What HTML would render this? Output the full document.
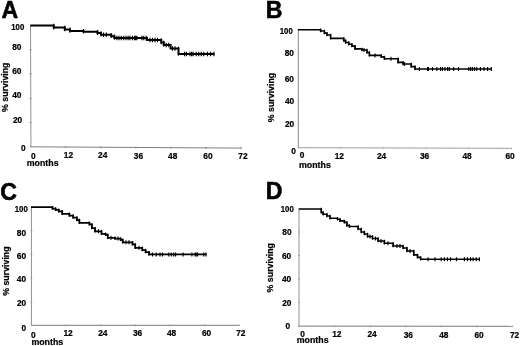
<!DOCTYPE html>
<html><head><meta charset="utf-8"><title>Survival curves</title>
<style>
html,body{margin:0;padding:0;background:#fff;}
svg{display:block;}
text{font-family:"Liberation Sans",Arial,Helvetica,sans-serif;font-weight:bold;font-size:8.8px;fill:#000;stroke:#000;stroke-width:0.22px;stroke-linejoin:round;}
text.pl{font-size:23.1px;stroke-width:0.6px;}
</style></head>
<body>
<svg width="520" height="346" viewBox="0 0 520 346">
<rect width="520" height="346" fill="#fff"/>
<g>
<path d="M30.5,25.4L30.95,147.3" fill="none" stroke="#929292" stroke-width="1.0"/>
<path d="M30.0,146.8L241.3,148.1" fill="none" stroke="#808080" stroke-width="1.0"/>
<path d="M29.5,49.75h2.0M29.5,73.75h2.0M29.5,98.4h2.0M29.5,122.5h2.0M65.6,146.02v2.0M100.7,146.23v2.0M135.8,146.45v2.0M170.9,146.67v2.0M206,146.88v2.0M241.1,147.10v2.0" fill="none" stroke="#808080" stroke-width="0.8"/>
<path d="M30.30,25.45H53.75V27.60H64.75V29.40H70.00V30.90H83.50V31.80H97.50V33.10H101.00V34.75H111.25V36.25H114.40V38.00H146.90V40.00H161.25V42.50H163.75V45.00H170.60V48.50H178.50V54.00H214.40" fill="none" stroke="#000" stroke-width="2.0" stroke-linejoin="miter"/>
<path d="M53.75,23.65v5.75M64.75,25.80v5.40M70.00,27.60v5.10M83.50,29.10v4.50M97.50,30.00v4.90M101.00,31.30v5.25M103.50,32.45v4.60M106.25,32.45v4.60M111.25,32.95v5.10M114.40,34.45v5.35M116.90,35.70v4.60M119.00,35.70v4.60M121.25,35.70v4.60M123.75,35.70v4.60M126.00,35.70v4.60M128.10,35.70v4.60M130.00,35.70v4.60M132.50,35.70v4.60M134.60,35.70v4.60M135.60,35.70v4.60M136.90,35.70v4.60M141.90,35.70v4.60M143.75,35.70v4.60M146.25,35.70v4.60M150.00,37.70v4.60M152.50,37.70v4.60M155.00,37.70v4.60M157.50,37.70v4.60M161.25,38.20v6.10M163.75,40.70v6.10M166.25,42.70v4.60M168.75,42.70v4.60M172.50,46.20v4.60M175.00,46.20v4.60M178.50,46.70v9.10M184.50,51.70v4.60M186.40,51.70v4.60M190.00,51.70v4.60M191.60,51.70v4.60M193.10,51.70v4.60M196.25,51.70v4.60M198.75,51.70v4.60M201.25,51.70v4.60M203.75,51.70v4.60M207.50,51.70v4.60M210.60,51.70v4.60M213.90,51.70v4.60" fill="none" stroke="#000" stroke-width="1.15"/>
<path d="M298.35,29.5L298.35,148.29999999999998" fill="none" stroke="#909090" stroke-width="1.1"/>
<path d="M297.8,147.6L511.75,148.4" fill="none" stroke="#b0b0b0" stroke-width="1.4"/>
<path d="M297.35,53.1h2.0M297.35,76.7h2.0M297.35,100.3h2.0M297.35,123.9h2.0M340.75,146.76v2.0M383.5,146.92v2.0M426.25,147.08v2.0M469,147.24v2.0M511.5,147.40v2.0" fill="none" stroke="#b0b0b0" stroke-width="0.8"/>
<path d="M297.90,29.75H320.60V31.00H324.40V33.10H326.90V35.00H330.60V38.40H343.75V40.60H345.60V42.50H348.75V44.20H351.90V46.10H355.00V48.90H361.90V50.00H366.90V52.50H369.40V55.40H381.25V56.90H384.40V58.75H398.10V62.40H403.10V64.00H411.25V66.60H415.00V69.00H492.00" fill="none" stroke="#000" stroke-width="1.6" stroke-linejoin="miter"/>
<path d="M320.60,28.55v3.65M324.40,29.80v4.50M326.90,31.90v4.30M330.60,33.80v5.80M343.75,37.20v4.60M345.60,39.40v4.30M348.75,41.30v4.10M351.90,43.00v4.30M355.00,44.90v5.20M361.90,47.70v3.50M364.00,48.00v4.00M366.90,48.80v4.90M369.40,51.30v5.30M375.00,53.40v4.00M381.25,54.20v3.90M384.40,55.70v4.25M391.00,56.75v4.00M398.10,57.55v6.05M403.10,61.20v4.00M404.50,62.00v4.00M411.25,62.80v5.00M415.00,65.40v4.80M419.40,67.00v4.00M427.60,67.00v4.00M428.40,67.00v4.00M432.50,67.00v4.00M436.90,67.00v4.00M440.60,67.00v4.00M442.50,67.00v4.00M445.00,67.00v4.00M447.60,67.00v4.00M449.30,67.00v4.00M453.70,67.00v4.00M458.50,67.00v4.00M468.80,67.00v4.00M470.70,67.00v4.00M472.50,67.00v4.00M474.60,67.00v4.00M476.80,67.00v4.00M480.40,67.00v4.00M484.00,67.00v4.00M487.60,67.00v4.00M491.30,67.00v4.00" fill="none" stroke="#000" stroke-width="1.15"/>
<path d="M31.45,207.2L31.45,325.90000000000003" fill="none" stroke="#929292" stroke-width="1.0"/>
<path d="M30.95,325.3L239.25,325.3" fill="none" stroke="#959595" stroke-width="1.2"/>
<path d="M30.45,230.9h2.0M30.45,254.6h2.0M30.45,278.2h2.0M30.45,301.8h2.0M65.9,324.30v2.0M100.6,324.30v2.0M135.25,324.30v2.0M169.9,324.30v2.0M204.6,324.30v2.0M239,324.30v2.0" fill="none" stroke="#959595" stroke-width="0.8"/>
<path d="M31.00,207.20H52.50V208.50H55.60V209.75H58.75V211.25H62.25V213.75H69.40V215.60H73.10V217.50H76.90V220.00H79.40V222.75H89.40V224.40H91.90V228.10H95.00V231.25H101.50V233.75H105.60V234.75H107.75V237.75H115.00V238.50H120.60V239.75H122.75V242.25H132.50V244.40H135.25V247.75H142.25V250.00H145.60V252.10H149.00V254.45H206.50" fill="none" stroke="#000" stroke-width="1.75" stroke-linejoin="miter"/>
<path d="M52.50,206.00v3.70M55.60,207.30v3.65M58.75,208.55v3.90M62.25,210.05v4.90M69.40,212.55v4.25M73.10,214.40v4.30M76.90,216.30v4.90M79.40,218.80v5.15M89.40,221.55v4.05M91.90,223.20v6.10M95.00,226.90v5.55M98.50,229.25v4.00M101.50,230.05v4.90M105.60,232.55v3.40M107.75,233.55v5.40M111.00,235.75v4.00M115.00,236.55v3.15M118.00,236.50v4.00M120.60,237.30v3.65M122.75,238.55v4.90M126.00,240.25v4.00M129.00,240.25v4.00M132.50,241.05v4.55M135.25,243.20v5.75M139.00,245.75v4.00M142.25,246.55v4.65M145.60,248.80v4.50M149.00,250.90v4.75M152.50,252.45v4.00M156.25,252.45v4.00M160.00,252.45v4.00M162.50,252.45v4.00M168.75,252.45v4.00M171.25,252.45v4.00M173.75,252.45v4.00M175.60,252.45v4.00M183.10,252.45v4.00M191.90,252.45v4.00M195.20,252.45v4.00M196.00,252.45v4.00M197.50,252.45v4.00M203.75,252.45v4.00M206.00,252.45v4.00" fill="none" stroke="#000" stroke-width="1.15"/>
<path d="M299.0,208.9L299.0,326.8" fill="none" stroke="#c2c2c2" stroke-width="1.8"/>
<path d="M298.1,326.2L512.5,326.3" fill="none" stroke="#959595" stroke-width="1.2"/>
<path d="M298.0,232h2.0M298.0,255.5h2.0M298.0,279h2.0M298.0,302.5h2.0M334.4,325.22v2.0M370,325.23v2.0M405.6,325.25v2.0M441.25,325.27v2.0M476.9,325.28v2.0M512.3,325.30v2.0" fill="none" stroke="#959595" stroke-width="0.8"/>
<path d="M298.75,208.95H321.25V212.35H323.10V214.20H326.90V216.05H330.00V218.20H337.50V219.20H340.00V220.85H344.40V222.35H346.90V225.45H349.40V226.45H358.10V228.95H361.25V232.05H364.40V234.05H367.50V236.45H372.50V238.55H378.10V241.05H384.40V243.20H393.10V246.05H403.10V247.95H406.90V251.05H413.75V254.85H417.50V257.35H420.60V259.25H479.75" fill="none" stroke="#000" stroke-width="1.6" stroke-linejoin="miter"/>
<path d="M321.25,207.75v5.80M323.10,211.15v4.25M326.90,213.00v4.25M330.00,214.85v4.55M337.50,217.00v3.40M340.00,218.00v4.05M344.40,219.65v3.90M346.90,221.15v5.50M349.40,224.25v3.40M358.10,225.25v4.90M361.25,227.75v5.50M364.40,230.85v4.40M367.50,232.85v4.80M370.00,234.45v4.00M372.50,235.25v4.50M375.50,236.55v4.00M378.10,237.35v4.90M381.00,239.05v4.00M384.40,239.85v4.55M388.00,241.20v4.00M393.10,242.00v5.25M397.00,244.05v4.00M400.00,244.05v4.00M403.10,244.85v4.30M406.90,246.75v5.50M410.00,249.05v4.00M413.75,249.85v6.20M417.50,253.65v4.90M420.60,256.15v4.30M428.10,257.25v4.00M435.00,257.25v4.00M441.25,257.25v4.00M444.40,257.25v4.00M447.50,257.25v4.00M450.60,257.25v4.00M456.50,257.25v4.00M464.40,257.25v4.00M467.50,257.25v4.00M470.60,257.25v4.00M473.10,257.25v4.00M476.25,257.25v4.00M479.40,257.25v4.00" fill="none" stroke="#000" stroke-width="1.15"/>
<text transform="translate(11.25,30.40) scale(0.885,1.07)">100</text>
<text transform="translate(12.22,50.00) scale(0.95,1.07)">80</text>
<text transform="translate(12.22,73.80) scale(0.95,1.07)">60</text>
<text transform="translate(12.22,98.20) scale(0.95,1.07)">40</text>
<text transform="translate(12.97,122.80) scale(0.95,1.07)">20</text>
<text transform="translate(20.97,151.10) scale(0.95,1.07)">0</text>
<text transform="translate(30.97,159.00) scale(0.95,1.07)">0</text>
<text transform="translate(63.81,158.30) scale(0.95,1.07)">12</text>
<text transform="translate(98.07,158.30) scale(0.95,1.07)">24</text>
<text transform="translate(133.87,158.70) scale(0.95,1.07)">36</text>
<text transform="translate(168.07,158.70) scale(0.95,1.07)">48</text>
<text transform="translate(203.37,158.90) scale(0.95,1.07)">60</text>
<text transform="translate(238.27,159.00) scale(0.95,1.07)">72</text>
<text x="26.77" y="165.60">months</text>
<text transform="translate(279.75,34.20) scale(0.885,1.07)">100</text>
<text transform="translate(284.72,56.05) scale(0.95,1.07)">80</text>
<text transform="translate(284.72,81.90) scale(0.95,1.07)">60</text>
<text transform="translate(284.97,103.80) scale(0.95,1.07)">40</text>
<text transform="translate(284.97,127.40) scale(0.95,1.07)">20</text>
<text transform="translate(291.22,153.90) scale(0.95,1.07)">0</text>
<text transform="translate(299.87,157.90) scale(0.95,1.07)">0</text>
<text transform="translate(334.71,159.00) scale(0.95,1.07)">12</text>
<text transform="translate(376.97,159.10) scale(0.95,1.07)">24</text>
<text transform="translate(419.97,159.30) scale(0.95,1.07)">36</text>
<text transform="translate(462.47,159.30) scale(0.95,1.07)">48</text>
<text transform="translate(505.47,159.30) scale(0.95,1.07)">60</text>
<text x="299.02" y="167.60">months</text>
<text transform="translate(14.75,211.80) scale(0.885,1.07)">100</text>
<text transform="translate(16.87,235.80) scale(0.95,1.07)">80</text>
<text transform="translate(16.87,259.20) scale(0.95,1.07)">60</text>
<text transform="translate(16.87,282.30) scale(0.95,1.07)">40</text>
<text transform="translate(16.97,306.00) scale(0.95,1.07)">20</text>
<text transform="translate(21.47,330.50) scale(0.95,1.07)">0</text>
<text transform="translate(30.97,337.90) scale(0.95,1.07)">0</text>
<text transform="translate(63.46,335.80) scale(0.95,1.07)">12</text>
<text transform="translate(98.22,335.80) scale(0.95,1.07)">24</text>
<text transform="translate(132.97,336.00) scale(0.95,1.07)">36</text>
<text transform="translate(166.97,336.00) scale(0.95,1.07)">48</text>
<text transform="translate(201.97,336.00) scale(0.95,1.07)">60</text>
<text transform="translate(236.22,336.00) scale(0.95,1.07)">72</text>
<text x="31.42" y="344.60">months</text>
<text transform="translate(280.75,212.00) scale(0.885,1.07)">100</text>
<text transform="translate(282.37,235.30) scale(0.95,1.07)">80</text>
<text transform="translate(281.97,258.60) scale(0.95,1.07)">60</text>
<text transform="translate(281.97,282.10) scale(0.95,1.07)">40</text>
<text transform="translate(282.17,305.80) scale(0.95,1.07)">20</text>
<text transform="translate(285.47,328.80) scale(0.95,1.07)">0</text>
<text transform="translate(300.37,337.20) scale(0.95,1.07)">0</text>
<text transform="translate(332.21,337.20) scale(0.95,1.07)">12</text>
<text transform="translate(367.47,337.30) scale(0.95,1.07)">24</text>
<text transform="translate(403.72,337.50) scale(0.95,1.07)">36</text>
<text transform="translate(439.22,337.50) scale(0.95,1.07)">48</text>
<text transform="translate(474.47,337.50) scale(0.95,1.07)">60</text>
<text transform="translate(509.97,337.50) scale(0.95,1.07)">72</text>
<text x="296.77" y="342.60">months</text>
<text transform="translate(8.0,111.9) rotate(-90)">% surviving</text>
<text transform="translate(274.2,122.2) rotate(-90)">% surviving</text>
<text transform="translate(8.6,295.8) rotate(-90)">% surviving</text>
<text transform="translate(273.3,292.4) rotate(-90)">% surviving</text>
<text class="pl" x="1.4" y="18.4">A</text>
<text class="pl" x="265.8" y="18.1">B</text>
<text class="pl" x="0.2" y="199.5">C</text>
<text class="pl" x="265.8" y="199.4">D</text>
</g>
</svg>
</body></html>
